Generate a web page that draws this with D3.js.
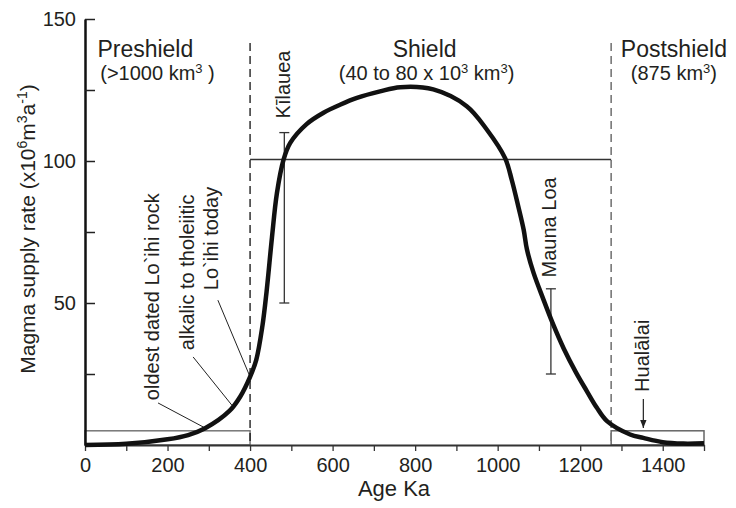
<html>
<head>
  <script src="https://d3js.org/d3.v7.min.js" charset="utf-8"></script>
  <title>Magma supply</title>
  <style>
    * { margin: 0; padding: 0; }
    body { background: #fff; }
    text { font-family: "Liberation Sans", Arial, sans-serif; fill: #231f20; }
  </style>
</head>
<body>
<div id="graph"></div>

<script>
  // curve (age in ka, rate in 10^6 m3/a)
  var ages  = [0, 100, 200, 250, 290, 350, 376, 400, 415, 430, 440, 453, 465, 481, 497, 537, 578, 618, 659, 715, 764,
               844, 925, 974, 1018, 1034, 1050, 1063, 1071, 1087, 1111, 1133, 1160, 1190, 1216, 1240, 1265, 1321, 1353, 1400, 1450, 1500];
  var rates = [0, 0.4, 2, 3.5, 5.8, 12, 17, 24, 30, 42, 54, 73, 88.6, 100.4, 106.3, 113, 117, 119.8, 122.2, 124.5, 126,
               125.2, 119.3, 111, 101, 93.4, 84, 75.8, 68.8, 60.6, 51.2, 43, 34, 25.5, 19, 13.2, 8.4, 3.7, 2.5, 1, 0.5, 0.6];

  var xTicks = d3.range(0, 1501, 100);
  var xLabels = [0, 200, 400, 600, 800, 1000, 1200, 1400];
  var yTicks = [25, 50, 75, 100, 125, 150];
  var yLabels = [50, 100, 150];

  var stageBounds = [400, 1275];
  var stageNames = ["Preshield", "Shield", "Postshield"];
  var stageVolumes = [["(>1000 km", "3", " )"], ["(40 to 80 x 10", "3", " km", "3", ")"], ["(875 km", "3", ")"]];
  var shieldRate = 100.5;
  var boxRate = 5;

  var errNames = ["Kīlauea", "Mauna Loa"];
  var errAges = [483, 1129];
  var errLow = [50, 25];
  var errHigh = [110, 55];

  var noteNames = ["oldest dated Lo`ihi rock", "alkalic to tholeiitic", "Lo`ihi today"];
  var noteFrom = [[177, 14.8], [262, 31], [322, 51]];
  var noteTo = [[291, 6], [356, 14], [400, 24]];
  var noteText = [[179, 15.8], [264, 33.4], [322, 54.5]];

  var labelNames = ["Kīlauea", "Mauna Loa", "Hualālai"];
  var labelAt = [[496, 115], [1142, 59], [1367, 18.7]];
  var arrowAge = 1353;
  var arrowRates = [16.2, 6];

  var w = 736, h = 508;
  var svg = d3.select("#graph").append("svg").attr("width", w).attr("height", h);

  var x = d3.scaleLinear().domain([0, 1500]).range([85, 704]);
  var y = d3.scaleLinear().domain([0, 150]).range([445, 19]);

  // low-rate boxes
  svg.append("rect")
    .attr("x", x(0)).attr("y", y(boxRate))
    .attr("width", x(stageBounds[0]) - x(0)).attr("height", y(0) - y(boxRate))
    .attr("fill", "none").attr("stroke", "#777").attr("stroke-width", 1.5);
  svg.append("rect")
    .attr("x", x(stageBounds[1])).attr("y", y(boxRate))
    .attr("width", x(1500) - x(stageBounds[1])).attr("height", y(0) - y(boxRate))
    .attr("fill", "none").attr("stroke", "#666").attr("stroke-width", 1.5);

  // stage boundaries
  svg.append("line")
    .attr("x1", x(stageBounds[0])).attr("x2", x(stageBounds[0]))
    .attr("y1", 43).attr("y2", y(0))
    .attr("stroke", "#111").attr("stroke-width", 1.3).attr("stroke-dasharray", "8,5");
  svg.append("line")
    .attr("x1", x(stageBounds[1])).attr("x2", x(stageBounds[1]))
    .attr("y1", 43).attr("y2", y(0))
    .attr("stroke", "#777").attr("stroke-width", 1.6).attr("stroke-dasharray", "8,5");

  svg.append("line")
    .attr("x1", x(stageBounds[0])).attr("x2", x(stageBounds[1]))
    .attr("y1", y(shieldRate)).attr("y2", y(shieldRate))
    .attr("stroke", "#333").attr("stroke-width", 1.5);

  // axes
  var xAxis = svg.append("g").attr("transform", "translate(0," + y(0) + ")")
    .call(d3.axisBottom(x).tickValues(xTicks).tickSize(6).tickSizeOuter(0)
      .tickFormat(function(d) { return xLabels.indexOf(d) >= 0 ? d : ""; }));
  xAxis.select(".domain").attr("stroke", "#333").attr("stroke-width", 2);
  xAxis.selectAll(".tick line").attr("stroke", "#333").attr("stroke-width", 1.3);
  xAxis.selectAll("text").attr("font-size", 20).attr("y", 9).attr("dy", "0.88em").attr("fill", "#231f20");

  var yAxis = svg.append("g").attr("transform", "translate(" + x(0) + ",0)")
    .call(d3.axisLeft(y).tickValues(yTicks).tickSize(-10).tickSizeOuter(0)
      .tickFormat(function(d) { return yLabels.indexOf(d) >= 0 ? d : ""; }));
  yAxis.select(".domain").attr("stroke", "#111").attr("stroke-width", 2.5);
  yAxis.selectAll(".tick line").attr("stroke", "#222").attr("stroke-width", 1.5);
  yAxis.selectAll("text").attr("font-size", 20).attr("x", -9).attr("fill", "#231f20");

  svg.append("text").attr("x", 394).attr("y", 496)
    .attr("text-anchor", "middle").attr("font-size", 22).text("Age Ka");

  var yt = svg.append("text").attr("transform", "translate(35,229) rotate(-90)")
    .attr("text-anchor", "middle").attr("font-size", 21);
  yt.append("tspan").text("Magma supply rate (x10");
  yt.append("tspan").attr("font-size", 14).attr("dy", -8).text("6");
  yt.append("tspan").attr("dy", 8).text("m");
  yt.append("tspan").attr("font-size", 14).attr("dy", -8).text("3");
  yt.append("tspan").attr("dy", 8).text("a");
  yt.append("tspan").attr("font-size", 14).attr("dy", -8).text("-1");
  yt.append("tspan").attr("dy", 8).text(")");

  // stage titles
  var titleX = [x(30), (x(stageBounds[0]) + x(stageBounds[1])) / 2 - 6, x(1427)];
  var subX = [x(37), titleX[1] + 2, titleX[2]];
  var anchors = ["start", "middle", "middle"];
  stageNames.forEach(function(name, i) {
    svg.append("text").attr("x", titleX[i]).attr("y", 57)
      .attr("text-anchor", anchors[i]).attr("font-size", 23).text(name);
    var t = svg.append("text").attr("x", subX[i]).attr("y", 80)
      .attr("text-anchor", anchors[i]).attr("font-size", 20);
    stageVolumes[i].forEach(function(s, j) {
      var sup = s === "3";
      t.append("tspan").attr("font-size", sup ? 13 : 20).attr("dy", sup ? -7 : (j > 0 ? 7 : 0)).text(s);
    });
  });

  // error bars
  errNames.forEach(function(n, i) {
    var cx = x(errAges[i]);
    svg.append("line").attr("x1", cx).attr("x2", cx).attr("y1", y(errLow[i])).attr("y2", y(errHigh[i]))
      .attr("stroke", "#333").attr("stroke-width", 1.3);
    [errLow[i], errHigh[i]].forEach(function(v) {
      svg.append("line").attr("x1", cx - 5).attr("x2", cx + 5).attr("y1", y(v)).attr("y2", y(v))
        .attr("stroke", "#333").attr("stroke-width", 1.3);
    });
  });

  // leaders
  noteNames.forEach(function(n, i) {
    svg.append("line")
      .attr("x1", x(noteFrom[i][0])).attr("y1", y(noteFrom[i][1]))
      .attr("x2", x(noteTo[i][0])).attr("y2", y(noteTo[i][1]))
      .attr("stroke", "#222").attr("stroke-width", 1);
    svg.append("text")
      .attr("transform", "translate(" + x(noteText[i][0]) + "," + y(noteText[i][1]) + ") rotate(-90)")
      .attr("font-size", 20).text(n);
  });

  labelNames.forEach(function(n, i) {
    svg.append("text")
      .attr("transform", "translate(" + x(labelAt[i][0]) + "," + y(labelAt[i][1]) + ") rotate(-90)")
      .attr("font-size", 20).text(n);
  });

  svg.append("defs").append("marker").attr("id", "arr")
    .attr("viewBox", "0 0 10 10").attr("refX", 10).attr("refY", 5)
    .attr("markerWidth", 7).attr("markerHeight", 7).attr("orient", "auto")
    .append("path").attr("d", "M0,1L10,5L0,9Z").attr("fill", "#222");
  svg.append("line")
    .attr("x1", x(arrowAge)).attr("x2", x(arrowAge))
    .attr("y1", y(arrowRates[0])).attr("y2", y(arrowRates[1]))
    .attr("stroke", "#222").attr("stroke-width", 1.2).attr("marker-end", "url(#arr)");

  // main curve
  var line = d3.line()
    .x(function(d, i) { return x(ages[i]); })
    .y(function(d) { return y(d); })
    .curve(d3.curveCatmullRom.alpha(0.5));
  svg.append("path").datum(rates)
    .attr("d", line)
    .attr("fill", "none").attr("stroke", "#111").attr("stroke-width", 4.5)
    .attr("stroke-linejoin", "round");
</script>
</body>
</html>
